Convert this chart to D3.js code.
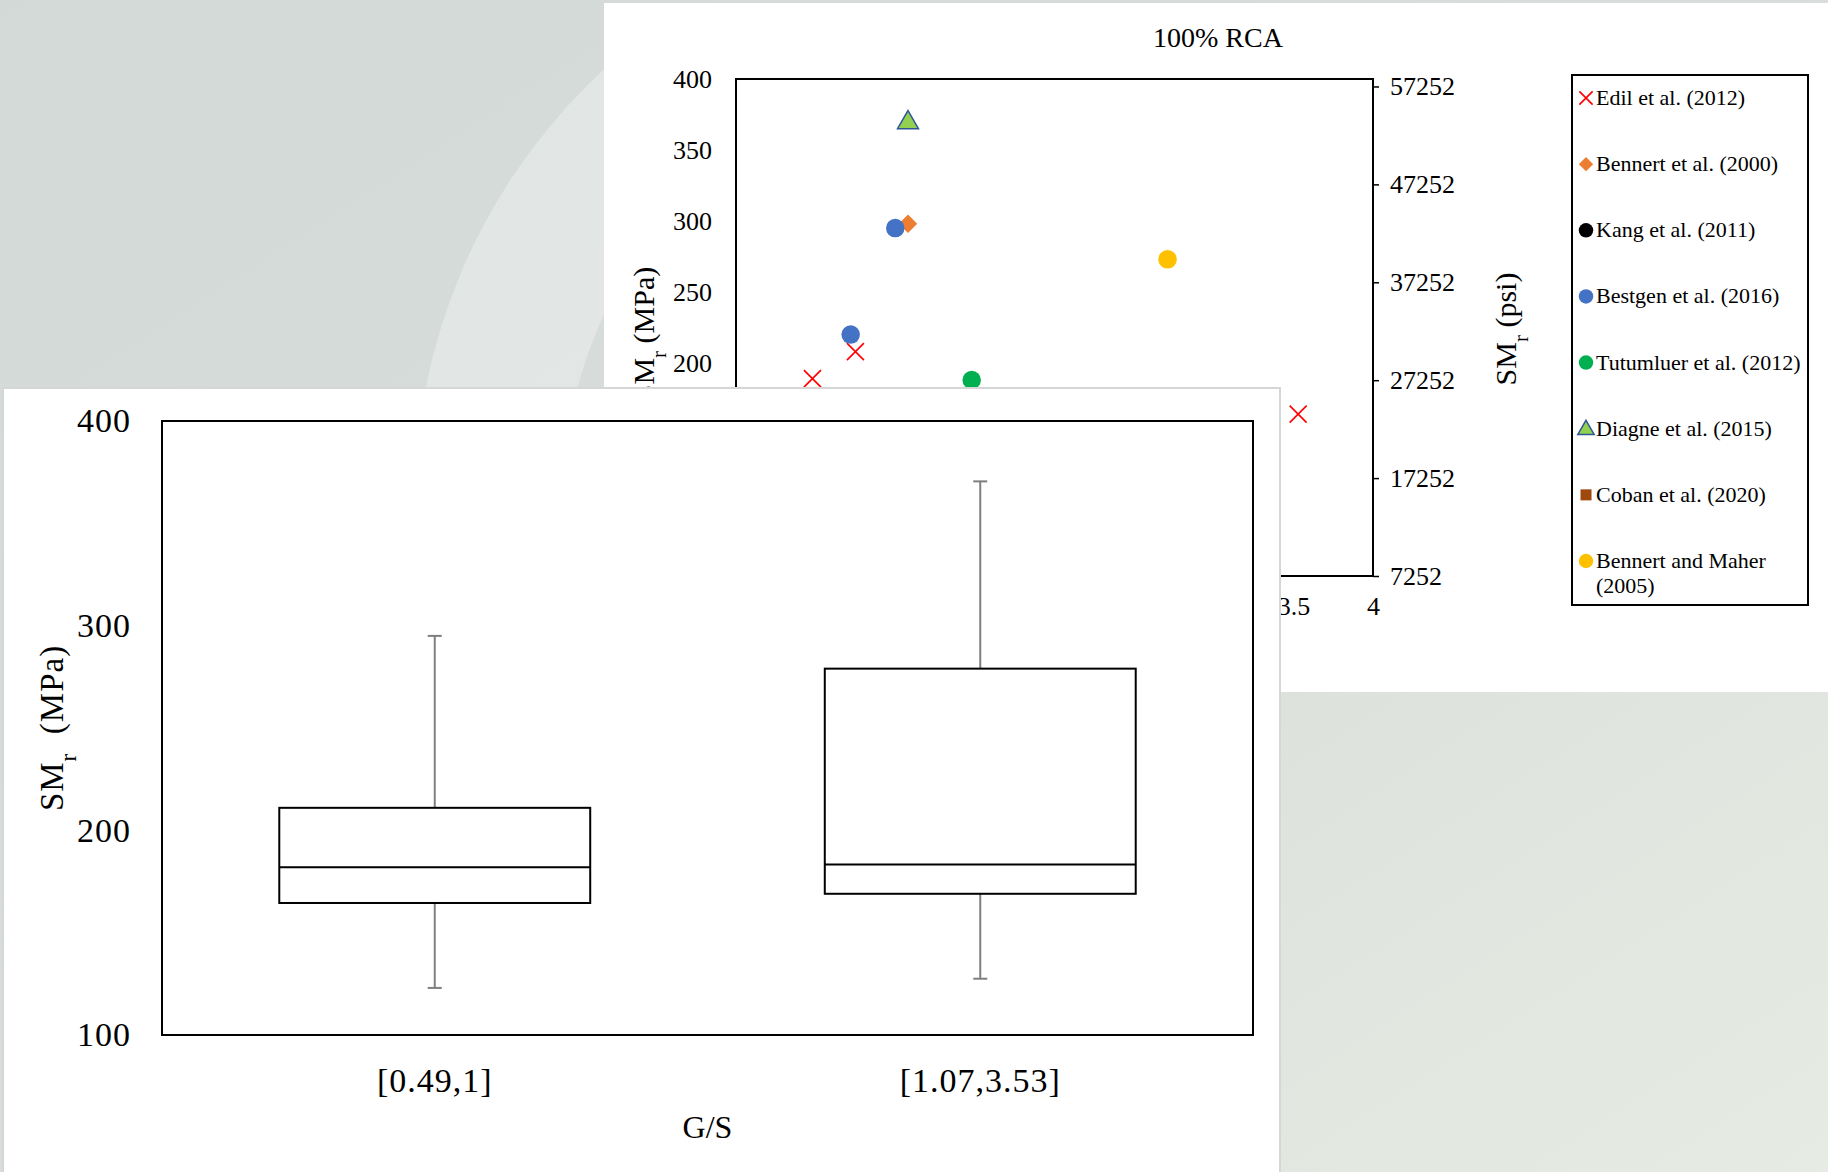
<!DOCTYPE html>
<html>
<head>
<meta charset="utf-8">
<script src="https://cdn.jsdelivr.net/npm/d3@7"></script>
<style>
  body { margin: 0; background: #d6dbd8; }
  svg { display: block; }
  text { font-family: "Liberation Serif", "Times New Roman", serif; fill: #000; }
</style>
</head>
<body>
<div id="chart"></div>
<script>
// ---- scatter: 100% RCA (G/S vs SMr) ----
const edil = [[0.48, 189], [0.75, 208], [1.07, 176], [3.53, 164]];
const bennert2000 = [[1.08, 298]];
const kang = [];
const bestgen = [[0.72, 220], [1.0, 295]];
const tutumluer = [[1.48, 188]];
const diagne = [[1.08, 370]];
const coban = [];
const bennertMaher = [[2.71, 273]];

const seriesNames = ["Edil et al. (2012)", "Bennert et al. (2000)", "Kang et al. (2011)",
  "Bestgen et al. (2016)", "Tutumluer et al. (2012)", "Diagne et al. (2015)",
  "Coban et al. (2020)", "Bennert and Maher (2005)"];

const mpaTicks = [50, 100, 150, 200, 250, 300, 350, 400];
const psiTicks = [7252, 17252, 27252, 37252, 47252, 57252];
const gsTicks = [0, 0.5, 1, 1.5, 2, 2.5, 3, 3.5, 4];

// ---- box plot: SMr by G/S range ----
const boxCats = ["[0.49,1]", "[1.07,3.53]"];
const boxMin = [123, 127.5];
const boxQ1 = [164.5, 169];
const boxMed = [182, 183.3];
const boxQ3 = [211, 279];
const boxMax = [295, 370.5];
const boxTicks = [100, 200, 300, 400];

const W = 1828, H = 1172;
const svg = d3.select("#chart").append("svg")
  .attr("width", W).attr("height", H)
  .attr("viewBox", [0, 0, W, H]);

// fondo
const defs = svg.append("defs");
const grad = defs.append("linearGradient").attr("id", "bg")
  .attr("x1", "0").attr("y1", "0").attr("x2", "1").attr("y2", "1");
grad.append("stop").attr("offset", "0").attr("stop-color", "#d3d9d7");
grad.append("stop").attr("offset", "0.5").attr("stop-color", "#d9dedb");
grad.append("stop").attr("offset", "1").attr("stop-color", "#e6ebe3");
defs.append("clipPath").attr("id", "tl").append("rect")
  .attr("x", 0).attr("y", 0).attr("width", 604).attr("height", 390);

svg.append("rect").attr("width", W).attr("height", H).attr("fill", "url(#bg)");
const ring = d3.arc().innerRadius(437).outerRadius(585).startAngle(0).endAngle(2 * Math.PI);
svg.append("g").attr("clip-path", "url(#tl)")
  .append("path")
  .attr("d", ring())
  .attr("transform", "translate(1000,500)")
  .attr("fill", "#ffffff").attr("opacity", 0.3);

// ---------- scatter panel ----------
svg.append("rect").attr("x", 604).attr("y", 3).attr("width", W - 604).attr("height", 689)
  .attr("fill", "#fff");

const sc = {left: 736, top: 79, right: 1373, bottom: 576};
const sx = d3.scaleLinear().domain([0, 4]).range([sc.left, sc.right]);
const sy = d3.scaleLinear().domain([50, 400]).range([sc.bottom, sc.top]);
const sPsi = d3.scaleLinear().domain([50 * 145.038, 400 * 145.038]).range([sc.bottom, sc.top]);

svg.append("text").attr("x", 1218).attr("y", 47).attr("text-anchor", "middle")
  .style("font-size", "28px").text("100% RCA");

const axL = svg.append("g").attr("transform", `translate(${sc.left},0)`)
  .call(d3.axisLeft(sy).tickValues(mpaTicks).tickSize(0).tickPadding(24));
const axR = svg.append("g").attr("transform", `translate(${sc.right},0)`)
  .call(d3.axisRight(sPsi).tickValues(psiTicks).tickSize(6).tickPadding(11).tickFormat(d3.format("d")));
const axB = svg.append("g").attr("transform", `translate(0,${sc.bottom})`)
  .call(d3.axisBottom(sx).tickValues(gsTicks).tickSize(0).tickPadding(21).tickFormat(d => d));
[axL, axR, axB].forEach(a => {
  a.select(".domain").remove();
  a.selectAll("text").style("font-family", "Liberation Serif").style("font-size", "26px").attr("fill", "#000");
  a.selectAll("line").attr("stroke", "#000").attr("stroke-width", 1.5);
});

svg.append("rect").attr("x", sc.left).attr("y", sc.top)
  .attr("width", sc.right - sc.left).attr("height", sc.bottom - sc.top)
  .attr("fill", "none").attr("stroke", "#000").attr("stroke-width", 2);

function smLabel(g, unit) {
  g.append("tspan").text("SM");
  g.append("tspan").attr("baseline-shift", "sub").style("font-size", "0.7em").text("r");
  g.append("tspan").text(unit);
}
smLabel(svg.append("text").attr("transform", "translate(654,334) rotate(-90)")
  .attr("text-anchor", "middle").style("font-size", "30px"), " (MPa)");
smLabel(svg.append("text").attr("transform", "translate(1516,329) rotate(-90)")
  .attr("text-anchor", "middle").style("font-size", "30px"), " (psi)");
svg.append("text").attr("x", (sc.left + sc.right) / 2).attr("y", 660).attr("text-anchor", "middle")
  .style("font-size", "30px").text("G/S");

// marcadores
const sym = (type, size) => d3.symbol().type(type).size(size)();
function marker(g, k, big) {
  const s = big ? 1 : 0.78;
  if (k === 0) {
    const h = 8.5 * s;
    g.append("path").attr("d", `M${-h},${-h}L${h},${h}M${-h},${h}L${h},${-h}`)
      .attr("stroke", "#ff0000").attr("stroke-width", 1.6).attr("fill", "none");
  } else if (k === 1) {
    g.append("path").attr("d", sym(d3.symbolSquare, 170 * s * s)).attr("transform", "rotate(45)")
      .attr("fill", "#ed7d31");
  } else if (k === 2) {
    g.append("path").attr("d", sym(d3.symbolCircle, 270 * s * s)).attr("fill", "#000");
  } else if (k === 3) {
    g.append("path").attr("d", sym(d3.symbolCircle, 270 * s * s)).attr("fill", "#4472c4");
  } else if (k === 4) {
    g.append("path").attr("d", sym(d3.symbolCircle, 270 * s * s)).attr("fill", "#00b050");
  } else if (k === 5) {
    g.append("path").attr("d", sym(d3.symbolTriangle, 190 * s * s)).attr("transform", "translate(0,1)")
      .attr("fill", "#92d050").attr("stroke", "#2f5597").attr("stroke-width", 1.5);
  } else if (k === 6) {
    g.append("path").attr("d", sym(d3.symbolSquare, 200 * s * s)).attr("fill", "#9e480e");
  } else {
    g.append("path").attr("d", sym(d3.symbolCircle, 270 * s * s)).attr("fill", "#ffc000");
  }
}

const allSeries = [edil, bennert2000, kang, bestgen, tutumluer, diagne, coban, bennertMaher];
allSeries.forEach((pts, k) => {
  svg.append("g").selectAll("g").data(pts).join("g")
    .attr("transform", d => `translate(${sx(d[0])},${sy(d[1])})`)
    .each(function() { marker(d3.select(this), k, true); });
});

// leyenda
const lg = {x: 1572, y: 75, w: 236, h: 530};
svg.append("rect").attr("x", lg.x).attr("y", lg.y).attr("width", lg.w).attr("height", lg.h)
  .attr("fill", "#fff").attr("stroke", "#000").attr("stroke-width", 2);
const ly = d3.scalePoint().domain(d3.range(8)).range([98, 561]);
seriesNames.forEach((name, k) => {
  const g = svg.append("g").attr("transform", `translate(1586,${ly(k)})`);
  marker(g, k, false);
  const t = svg.append("text").attr("x", 1596).attr("y", ly(k) + 7).style("font-size", "22px");
  if (k === 7) {
    t.append("tspan").text("Bennert and Maher");
    t.append("tspan").attr("x", 1596).attr("dy", 25).text("(2005)");
  } else {
    t.text(name);
  }
});

// ---------- box plot panel ----------
svg.append("rect").attr("x", 3).attr("y", 388).attr("width", 1277).attr("height", 800)
  .attr("fill", "#fff").attr("stroke", "#d5d7d6").attr("stroke-width", 2);

const bp = {left: 162, top: 421, right: 1253, bottom: 1035};
const bx = d3.scaleBand().domain(boxCats).range([bp.left, bp.right])
  .paddingInner(0.43).paddingOuter(0.215);
const by = d3.scaleLinear().domain([100, 400]).range([bp.bottom, bp.top]);

const bAxL = svg.append("g").attr("transform", `translate(${bp.left},0)`)
  .call(d3.axisLeft(by).tickValues(boxTicks).tickSize(0).tickPadding(31));
const bAxB = svg.append("g").attr("transform", `translate(0,${bp.bottom})`)
  .call(d3.axisBottom(bx).tickSize(0).tickPadding(33));
[bAxL, bAxB].forEach(a => {
  a.select(".domain").remove();
  a.selectAll("text").style("font-family", "Liberation Serif").style("font-size", "34px")
    .style("letter-spacing", "1px").attr("fill", "#000");
});

svg.append("rect").attr("x", bp.left).attr("y", bp.top)
  .attr("width", bp.right - bp.left).attr("height", bp.bottom - bp.top)
  .attr("fill", "none").attr("stroke", "#000").attr("stroke-width", 2);

const boxes = boxCats.map((c, i) => ({c, min: boxMin[i], q1: boxQ1[i], med: boxMed[i], q3: boxQ3[i], max: boxMax[i]}));
const bg = svg.append("g").selectAll("g").data(boxes).join("g");
const cx = d => bx(d.c) + bx.bandwidth() / 2;
const capW = 7;
// bigotes
bg.append("line").attr("x1", cx).attr("x2", cx).attr("y1", d => by(d.q3)).attr("y2", d => by(d.max))
  .attr("stroke", "#7f7f7f").attr("stroke-width", 2);
bg.append("line").attr("x1", cx).attr("x2", cx).attr("y1", d => by(d.q1)).attr("y2", d => by(d.min))
  .attr("stroke", "#7f7f7f").attr("stroke-width", 2);
bg.append("line").attr("x1", d => cx(d) - capW).attr("x2", d => cx(d) + capW)
  .attr("y1", d => by(d.max)).attr("y2", d => by(d.max)).attr("stroke", "#7f7f7f").attr("stroke-width", 2);
bg.append("line").attr("x1", d => cx(d) - capW).attr("x2", d => cx(d) + capW)
  .attr("y1", d => by(d.min)).attr("y2", d => by(d.min)).attr("stroke", "#7f7f7f").attr("stroke-width", 2);
// cajas
bg.append("rect").attr("x", d => bx(d.c)).attr("width", bx.bandwidth())
  .attr("y", d => by(d.q3)).attr("height", d => by(d.q1) - by(d.q3))
  .attr("fill", "#fff").attr("stroke", "#000").attr("stroke-width", 2);
bg.append("line").attr("x1", d => bx(d.c)).attr("x2", d => bx(d.c) + bx.bandwidth())
  .attr("y1", d => by(d.med)).attr("y2", d => by(d.med)).attr("stroke", "#000").attr("stroke-width", 2);

svg.append("text").attr("x", (bp.left + bp.right) / 2).attr("y", 1138).attr("text-anchor", "middle")
  .style("font-size", "32px").text("G/S");
const yl = svg.append("text").attr("transform", `translate(63,${(bp.top + bp.bottom) / 2}) rotate(-90)`)
  .attr("text-anchor", "middle").style("font-size", "33px").style("letter-spacing", "1px");
smLabel(yl, "\u00a0\u00a0(MPa)");
</script>
</body>
</html>
